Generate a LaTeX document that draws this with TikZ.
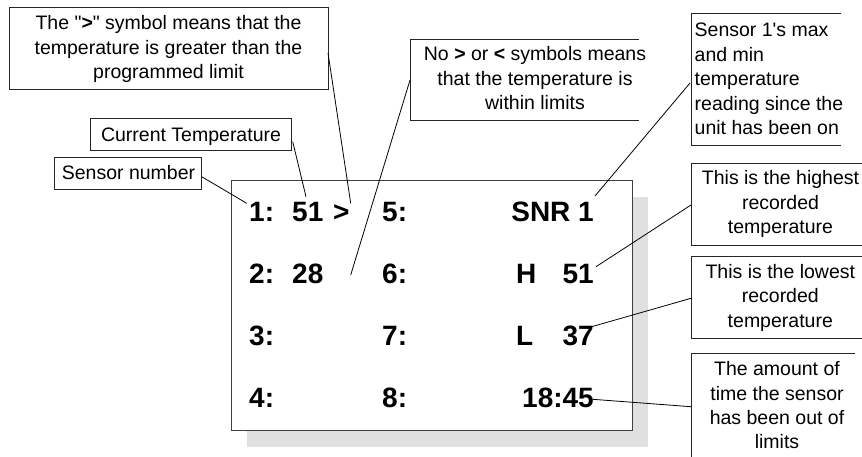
\documentclass[tikz,border=0pt]{standalone}
\usepackage{fontspec}
\setmainfont{Liberation Sans}[Ligatures=TeXOff]
\begin{document}
\begin{tikzpicture}[x=1pt,y=-1pt,
  call/.style={font=\fontsize{19.5}{24.4}\selectfont, align=center, inner sep=0pt, anchor=base},
  callL/.style={font=\fontsize{19.5}{24.5}\selectfont, align=left, inner sep=0pt, anchor=base west},
  disp/.style={font=\fontsize{28}{30}\selectfont\bfseries, inner sep=0pt, anchor=base west},
  dispR/.style={font=\fontsize{28}{30}\selectfont\bfseries, inner sep=0pt, anchor=base east},
  frame/.style={draw=black!85, line width=0.9pt},
  lead/.style={draw=black, line width=0.8pt}]
\useasboundingbox (0,0) rectangle (862,457);
% display shadow and frame
\fill[black!12] (246.7,196.7) rectangle (647.7,446.7);
\filldraw[fill=white, draw=black!75, line width=1pt] (231.7,181) rectangle (632.7,430.7);
% display texts
\node[disp] (n1) at (249,221.7) {1:};
\node[disp] (v1) at (292,221.7) {51};
\node[disp] (g1) at (333,221.7) {>};
\node[disp] (n2) at (249,283.3) {2:};
\node[disp] (v2) at (292,283.3) {28};
\node[disp] (n3) at (249,345.7) {3:};
\node[disp] (n4) at (249,407.7) {4:};
\node[disp] (n5) at (382,221.7) {5:};
\node[disp] (n6) at (382,283.3) {6:};
\node[disp] (n7) at (382,345.7) {7:};
\node[disp] (n8) at (382,407.7) {8:};
\node[dispR] (snr) at (594,221.7) {SNR 1};
\node[disp] (hh) at (516,283.3) {H};
\node[dispR] (hv) at (594,283.3) {51};
\node[disp] (ll) at (516,345.7) {L};
\node[dispR] (lv) at (594,345.7) {37};
\node[dispR] (tm) at (594,407.7) {18:45};
% callout A
\draw[frame] (9,7.3) rectangle (328,89.3);
\node[call] (tA) at (168.5,78.8) {The "\textbf{>}" symbol means that the\\temperature is greater than the\\programmed limit};
% callout B
\draw[frame] (90.7,118.3) rectangle (291,150.7);
\node[call] (tB) at (191,141.7) {Current Temperature};
% callout C
\draw[frame] (54.3,157.3) rectangle (201.7,189.3);
\node[call] (tC) at (128.5,180) {Sensor number};
% callout D
\draw[frame] (639,39) -- (410,39) -- (410,120.7) -- (639,120.7);
\node[call] (tD) at (535,109.7) {No \textbf{>} or \textbf{<} symbols means\\that the temperature is\\within limits};
% callout E
\draw[frame] (841,13.3) -- (691,13.3) -- (691,145) -- (841,145);
\node[callL] (tE) at (694.5,134.6) {Sensor 1's max\\and min\\temperature\\reading since the\\unit has been on};
% callout F
\draw[frame] (862,163.3) -- (691,163.3) -- (691,245) -- (862,245);
\node[call] (tF) at (780.5,233.6) {This is the highest\\recorded\\temperature};
% callout G
\draw[frame] (862,256.7) -- (691,256.7) -- (691,338.3) -- (862,338.3);
\node[call] (tG) at (780.3,327.3) {This is the lowest\\recorded\\temperature};
% callout H
\draw[frame] (855,353.3) -- (691,353.3) -- (691,457.5);
\node[call] (tH) at (777,448.8) {The amount of\\time the sensor\\has been out of\\limits};
% leader coordinates
\coordinate (sA) at (328,53);
\coordinate (eA) at (350.7,203.3);
\coordinate (sB) at (292.7,141.7);
\coordinate (eB) at (306,196.7);
\coordinate (sC) at (201.7,176.7);
\coordinate (eC) at (246.7,203.3);
\coordinate (sD) at (410,80);
\coordinate (eD) at (350.7,275);
\coordinate (sE) at (690,83);
\coordinate (eE) at (595,196);
\coordinate (sF) at (691,205);
\coordinate (eF) at (596,266.7);
\coordinate (sG) at (691,298.3);
\coordinate (eG) at (591.7,326.7);
\coordinate (sH) at (691,406.7);
\coordinate (eH) at (592.7,399.3);
\draw[lead] (sA) -- (eA);
\draw[lead] (sB) -- (eB);
\draw[lead] (sC) -- (eC);
\draw[lead] (sD) -- (eD);
\draw[lead] (sE) -- (eE);
\draw[lead] (sF) -- (eF);
\draw[lead] (sG) -- (eG);
\draw[lead] (sH) -- (eH);
\end{tikzpicture}
\end{document}
